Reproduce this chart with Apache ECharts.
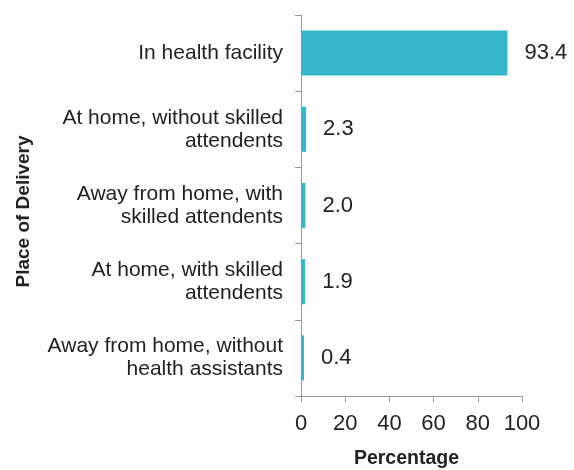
<!DOCTYPE html>
<html><head><meta charset="utf-8">
<script src="https://cdn.jsdelivr.net/npm/echarts@6/dist/echarts.min.js"></script>
<style>html,body{margin:0;padding:0;background:#fff}#c{width:574px;height:470px}</style>
</head><body><div id="c"></div>
<script>
const categories = [
  "In health facility",
  "At home, without skilled\nattendents",
  "Away from home, with\nskilled attendents",
  "At home, with skilled\nattendents",
  "Away from home, without\nhealth assistants"
];
const values = [93.4, 2.3, 2.0, 1.9, 0.4];
const xTicks = [0, 20, 40, 60, 80, 100];

const chart = echarts.init(document.getElementById('c'));
const font = 'Liberation Sans';
chart.setOption({
  animation: false,
  grid: {left: 301, right: 52, top: 15, bottom: 74, containLabel: false, outerBoundsMode: 'none'},
  xAxis: {
    type: 'value', min: xTicks[0], max: xTicks[xTicks.length-1], interval: 20,
    name: 'Percentage', nameLocation: 'middle', nameGap: 53,
    nameTextStyle: {fontFamily: font, fontWeight: 'bold', fontSize: 19.5, color: '#222', padding: [0, 10, 0, 0]},
    axisLine: {show: true, lineStyle: {color: '#999'}},
    axisTick: {show: true, length: 6, lineStyle: {color: '#999'}},
    axisLabel: {fontFamily: font, fontSize: 22, color: '#222', margin: 17},
    splitLine: {show: false}
  },
  yAxis: {
    type: 'category', data: categories, inverse: true,
    name: 'Place of Delivery', nameLocation: 'middle', nameGap: 268, nameRotate: 90,
    nameTextStyle: {fontFamily: font, fontWeight: 'bold', fontSize: 19, color: '#222', padding: [0, 12, 0, 0]},
    axisLine: {show: true, lineStyle: {color: '#999'}},
    axisTick: {show: true, length: 6, lineStyle: {color: '#999'}},
    axisLabel: {fontFamily: font, fontSize: 21, color: '#222', margin: 18, lineHeight: 23, align: 'right'}
  },
  series: [{
    type: 'bar', data: values, barWidth: 45, barMinHeight: 3,
    itemStyle: {color: '#35b8cb'},
    label: {show: true, position: 'right', distance: 17, fontFamily: font, fontSize: 22, color: '#222',
      formatter: p => p.value.toFixed(1)}
  }]
});
</script></body></html>
